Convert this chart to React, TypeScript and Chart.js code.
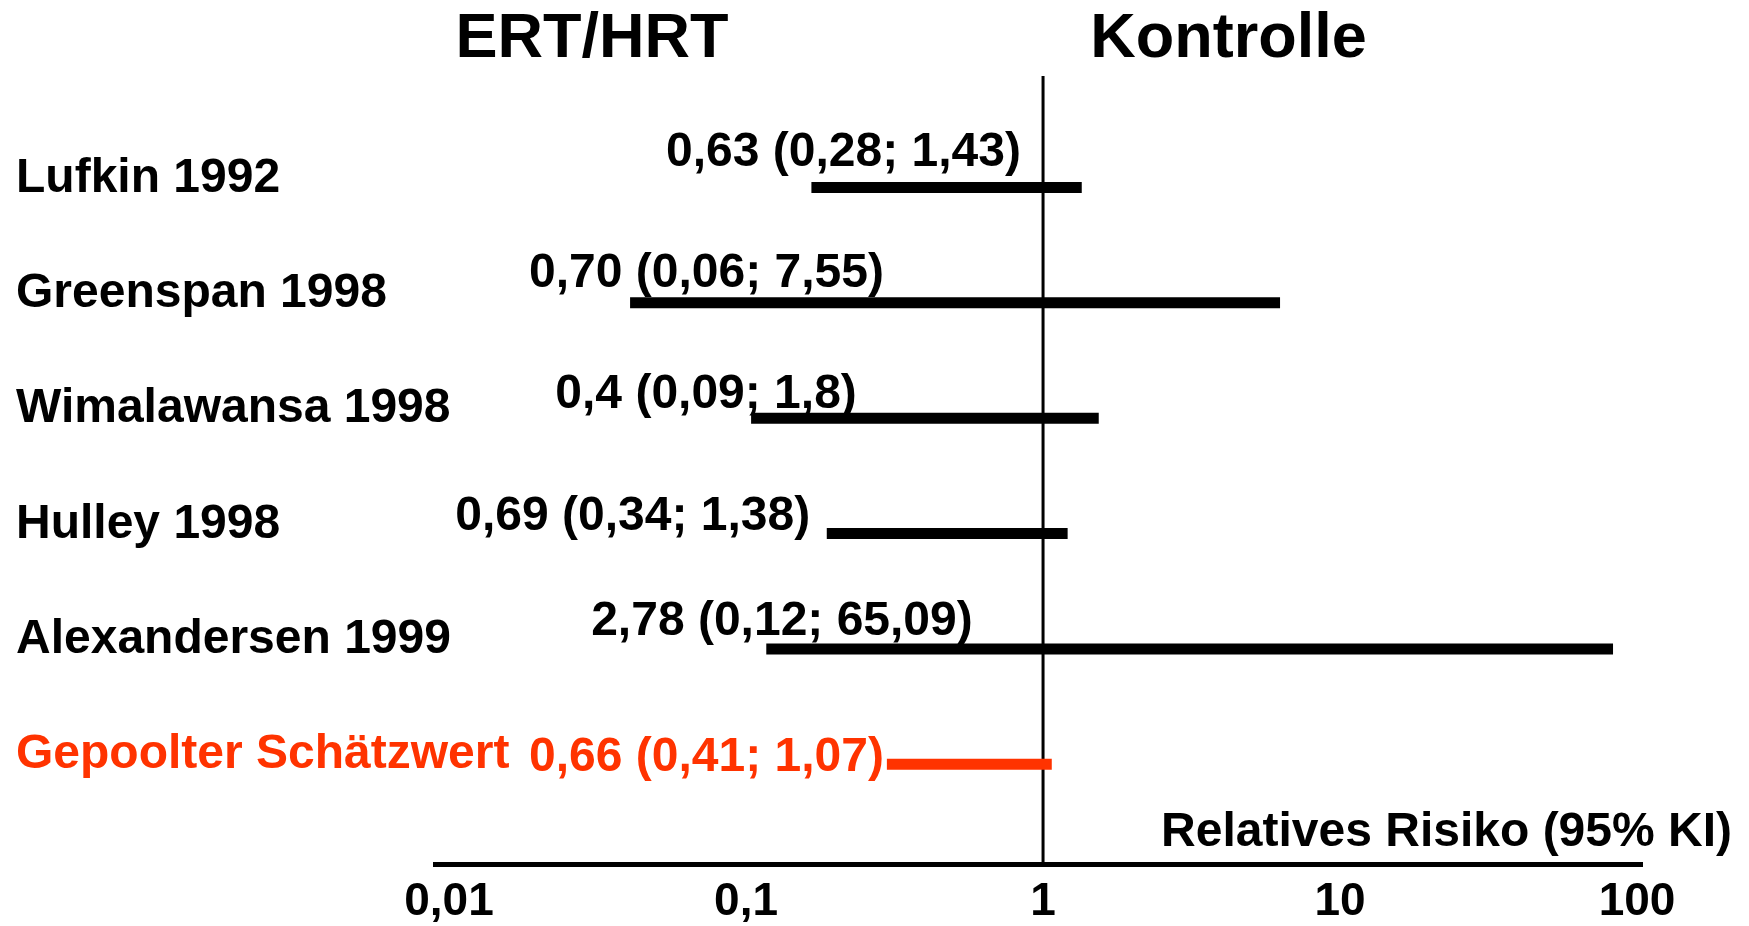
import React, { useEffect, useRef } from 'react';
import { Chart, registerables } from 'chart.js';

Chart.register(...registerables);

const FONT = '"Liberation Sans", Arial, Helvetica, sans-serif';
const RED = '#ff3300';
const BLACK = '#000000';

// ---- data ----
const studies = [
  'Lufkin 1992',
  'Greenspan 1998',
  'Wimalawansa 1998',
  'Hulley 1998',
  'Alexandersen 1999',
  'Gepoolter Schätzwert',
];
const estimateLabels = [
  '0,63 (0,28; 1,43)',
  '0,70 (0,06; 7,55)',
  '0,4 (0,09; 1,8)',
  '0,69 (0,34; 1,38)',
  '2,78 (0,12; 65,09)',
  '0,66 (0,41; 1,07)',
];
// interval ends as drawn in the picture
const lowerDrawn = [0.166, 0.0407, 0.104, 0.187, 0.117, 0.298];
const upperDrawn = [1.35, 6.28, 1.54, 1.21, 83.0, 1.07];
const pooledIndex = 5;
const referenceValue = 1;
const tickValues = [0.01, 0.1, 1, 10, 100];
const tickLabels = ['0,01', '0,1', '1', '10', '100'];
const leftTitle = 'ERT/HRT';
const rightTitle = 'Kontrolle';
const axisTitle = 'Relatives Risiko (95% KI)';

// ---- layout (positions / styles) ----
const X_MIN = 0.00897;
const X_MAX = 103.9;
const Y_MIN = -0.967;
const Y_MAX = 5.865;
const PLOT_LEFT = 435;
const NAME_LEFT = 16;
const labelAnchor = [0.0538, 0.0186, 0.0228, 0.0105, 0.0301, 0.0186];
const labelDy = [-22, -16, -10, -4, -14, 7];
const titleAnchor = [0.0303, 4.21];

const textPlugin = {
  id: 'forestText',
  afterDraw(chart: any) {
    const { ctx, chartArea } = chart;
    const x = chart.scales.x;
    const y = chart.scales.y;
    ctx.save();
    ctx.textBaseline = 'alphabetic';
    ctx.fillStyle = BLACK;
    ctx.textAlign = 'center';
    ctx.font = `bold 63px ${FONT}`;
    ctx.fillText(leftTitle, x.getPixelForValue(titleAnchor[0]), chartArea.top - 19);
    ctx.fillText(rightTitle, x.getPixelForValue(titleAnchor[1]), chartArea.top - 19);

    ctx.font = `bold 48px ${FONT}`;
    ctx.textAlign = 'left';
    estimateLabels.forEach((t, i) => {
      ctx.fillStyle = i === pooledIndex ? RED : BLACK;
      ctx.fillText(t, x.getPixelForValue(labelAnchor[i]), y.getPixelForValue(i) + labelDy[i]);
    });

    ctx.fillStyle = BLACK;
    ctx.textAlign = 'right';
    ctx.fillText(axisTitle, chartArea.right + 90, chartArea.bottom - 18);
    ctx.restore();
  },
};

export default function App() {
  const ref = useRef<HTMLCanvasElement>(null);

  useEffect(() => {
    const canvas = ref.current;
    if (!canvas) return;

    const datasets: any[] = studies.map((s, i) => ({
      label: s,
      data: [
        { x: lowerDrawn[i], y: i },
        { x: upperDrawn[i], y: i },
      ],
      borderColor: i === pooledIndex ? RED : BLACK,
      backgroundColor: i === pooledIndex ? RED : BLACK,
      borderWidth: 11,
      borderCapStyle: 'butt',
      pointRadius: 0,
      pointHoverRadius: 0,
      showLine: true,
      fill: false,
    }));
    datasets.push({
      label: 'Referenz',
      data: [
        { x: referenceValue, y: Y_MIN },
        { x: referenceValue, y: Y_MAX },
      ],
      borderColor: BLACK,
      borderWidth: 3,
      pointRadius: 0,
      showLine: true,
      fill: false,
    });

    const chart = new Chart(canvas, {
      type: 'scatter',
      data: { datasets },
      plugins: [textPlugin],
      options: {
        animation: false,
        responsive: false,
        maintainAspectRatio: false,
        layout: { padding: { left: PLOT_LEFT, right: 107, top: 76, bottom: -14 } },
        plugins: {
          legend: { display: false },
          tooltip: { enabled: false },
          title: { display: false },
        },
        scales: {
          x: {
            type: 'logarithmic',
            position: 'bottom',
            min: X_MIN,
            max: X_MAX,
            grid: { display: false, drawTicks: false },
            border: { display: true, color: BLACK, width: 5 },
            afterBuildTicks: (scale: any) => {
              scale.ticks = tickValues.map((v) => ({ value: v }));
            },
            ticks: {
              autoSkip: false,
              maxRotation: 0,
              minRotation: 0,
              padding: 15,
              color: BLACK,
              font: { family: FONT, size: 46, weight: 'bold', lineHeight: 1 },
              callback: (_v: any, index: number) => tickLabels[index],
            },
          },
          y: {
            type: 'linear',
            position: 'left',
            reverse: true,
            min: Y_MIN,
            max: Y_MAX,
            grid: { display: false, drawTicks: false },
            border: { display: false },
            afterBuildTicks: (scale: any) => {
              scale.ticks = studies.map((_, i) => ({ value: i }));
            },
            afterFit: (scale: any) => {
              scale.width = 0;
            },
            ticks: {
              autoSkip: false,
              mirror: true,
              padding: NAME_LEFT - PLOT_LEFT,
              labelOffset: -9,
              color: (c: any) => (c.index === pooledIndex ? RED : BLACK),
              font: { family: FONT, size: 48, weight: 'bold', lineHeight: 1 },
              callback: (_v: any, index: number) => studies[index],
            },
          },
        },
      } as any,
    });

    return () => chart.destroy();
  }, []);

  return (
    <div style={{ position: 'fixed', left: 0, top: 0, width: 1749, height: 926, background: '#fff' }}>
      <canvas ref={ref} width={1749} height={926} style={{ display: 'block', width: 1749, height: 926 }} />
    </div>
  );
}
